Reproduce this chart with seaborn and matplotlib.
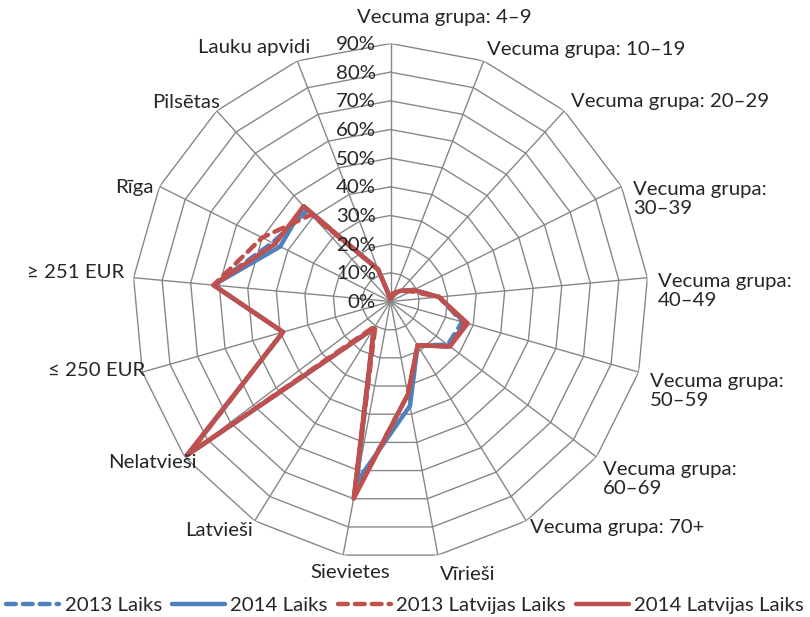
import numpy as np
import pandas as pd
import seaborn as sns
import matplotlib.pyplot as plt

# categories clockwise from the top
categories = [
    "Vecuma grupa: 4–9", "Vecuma grupa: 10–19", "Vecuma grupa: 20–29",
    "Vecuma grupa:\n30–39", "Vecuma grupa:\n40–49", "Vecuma grupa:\n50–59",
    "Vecuma grupa:\n60–69", "Vecuma grupa: 70+", "Vīrieši", "Sievietes",
    "Latvieši", "Nelatvieši", "≤ 250 EUR", "≥ 251 EUR", "Rīga", "Pilsētas",
    "Lauku apvidi",
]
series_names = ["2013 Laiks", "2014 Laiks", "2013 Latvijas Laiks", "2014 Latvijas Laiks"]

# shares in %
laiks_2013 = [1, 3, 5, 9, 17, 26, 25, 18, 33, 69, 11, 88, 39, 62, 46, 43, 12]
laiks_2014 = [1, 3, 5, 9, 17, 27, 26, 18, 37, 64, 11, 89, 39, 62, 43, 45, 12]
latvijas_2013 = [1, 3, 5, 8, 17, 27, 26, 18, 33, 69, 10, 88, 39, 62, 50, 41, 12]
latvijas_2014 = [1, 3, 5, 9, 17, 28, 26, 18, 33, 70, 11, 89, 39, 62, 45, 45, 12]

ring_values = [10, 20, 30, 40, 50, 60, 70, 80, 90]
ring_labels = ["0%", "10%", "20%", "30%", "40%", "50%", "60%", "70%", "80%", "90%"]

# label anchors (pixel coords from top-left) and alignment
label_pos = [
    (357, 18, "left"), (487, 50, "left"), (571, 102, "left"), (633, 199, "left"),
    (658, 291, "left"), (650, 391, "left"), (603, 479, "left"), (530, 528, "left"),
    (440, 575, "left"), (350, 573, "center"), (253, 531, "right"), (197, 463, "right"),
    (145, 370, "right"), (124, 272, "right"), (154, 187, "right"), (220, 103, "right"),
    (310, 47, "right"),
]

W, H = 810, 617
BLUE = "#4F81BD"
RED = "#C0504D"
GRID = "#878787"
FONT = ["Lato", "DejaVu Sans"]
FS = 14.7

sns.set_style("white")
plt.rcParams["font.family"] = FONT

n = len(categories)
theta = np.arange(n) * 2 * np.pi / n
theta_closed = np.append(theta, 2 * np.pi)

fig = plt.figure(figsize=(W / 100, H / 100), dpi=100)
cx, cy, R = 390.5, 301.5, 258
ax = fig.add_axes([(cx - R) / W, (H - cy - R) / H, 2 * R / W, 2 * R / H], projection="polar")
ax.set_theta_offset(np.pi / 2)
ax.set_theta_direction(-1)
ax.set_ylim(0, 90)
ax.grid(False)
ax.spines["polar"].set_visible(False)
ax.set_xticks([])
ax.set_yticks([])

# polygon grid
for rv in ring_values:
    ax.plot(theta_closed, [rv] * (n + 1), color=GRID, lw=1.0, zorder=1)
for t in theta:
    ax.plot([t, t], [0, 90], color=GRID, lw=1.0, zorder=1)

styles = [
    (laiks_2013, BLUE, (0, (2.2, 1.6))),
    (laiks_2014, BLUE, "-"),
    (latvijas_2013, RED, (0, (2.2, 1.6))),
    (latvijas_2014, RED, "-"),
]
for name, (vals, col, ls) in zip(series_names, styles):
    df = pd.DataFrame({"theta": theta_closed, "value": vals + vals[:1]})
    sns.lineplot(data=df, x="theta", y="value", ax=ax, sort=False, color=col,
                 lw=3.2, linestyle=ls, label=name, zorder=3,
                 dash_capstyle="round", solid_capstyle="round")
ax.set_xlabel("")
ax.set_ylabel("")
ax.get_legend().remove()

# radial labels
for i, lab in enumerate(ring_labels):
    y = cy - R * i * 10 / 90
    fig.text(376 / W, 1 - (y + 1) / H, lab, ha="right", va="center",
             fontsize=FS, color="#262626")

# category labels
for lab, (x, y, ha) in zip(categories, label_pos):
    fig.text(x / W, 1 - y / H, lab, ha=ha, va="center", fontsize=FS,
             color="#262626", linespacing=1.2)

handles, labels = ax.get_legend_handles_labels()
fig.legend(handles, labels, loc="center", bbox_to_anchor=(0.5, 1 - 605 / H),
           ncol=4, frameon=False, fontsize=FS, handlelength=2.6,
           handletextpad=0.25, columnspacing=0.5, labelcolor="#262626",
           borderpad=0.1)

fig.savefig("out.png", dpi=100)
